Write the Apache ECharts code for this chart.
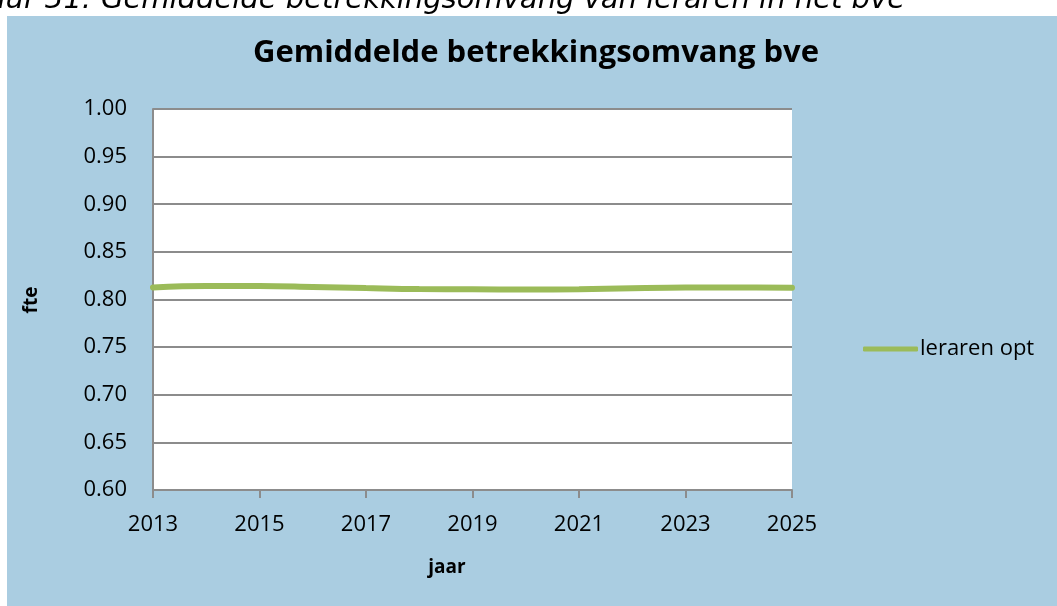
<!DOCTYPE html>
<html>
<head>
<meta charset="utf-8">
<script src="https://cdn.jsdelivr.net/npm/echarts@6/dist/echarts.min.js"></script>
<style>
  html, body { margin: 0; padding: 0; background: #ffffff; }
  #chart { width: 1057px; height: 606px; }
</style>
</head>
<body>
<div id="chart"></div>
<script>
// Average FTE per teacher in the bve sector
const years = [2013, 2014, 2015, 2016, 2017, 2018, 2019, 2020, 2021, 2022, 2023, 2024, 2025];
const lerarenOpt = [0.8127, 0.8142, 0.8142, 0.8132, 0.8120, 0.8110, 0.8108, 0.8105, 0.8108, 0.8118, 0.8125, 0.8126, 0.8123];
const yTicks = { min: 0.60, max: 1.00, step: 0.05 };
const xTicks = { min: 2013, max: 2025, step: 2 };

const FONT = '"Open Sans", "Liberation Sans", sans-serif';
const chart = echarts.init(document.getElementById('chart'), null, { renderer: 'canvas' });

chart.setOption({
  backgroundColor: '#ffffff',
  animation: false,
  graphic: [
    { type: 'rect', left: 7, top: 16, shape: { width: 1050, height: 590 }, style: { fill: '#aacde1' }, z: -10 },
    {
      type: 'text', x: 905, y: 0,
      style: {
        text: 'Figuur 31: Gemiddelde betrekkingsomvang van leraren in het bve',
        font: 'italic 29px "DejaVu Sans", sans-serif', fill: '#000000',
        align: 'right', verticalAlign: 'middle'
      }
    },
    {
      type: 'text', x: 447, y: 568,
      style: {
        text: 'jaar', font: 'bold 19px ' + FONT, fill: '#000000',
        align: 'center', verticalAlign: 'middle'
      }
    },
    {
      type: 'text', x: 32, y: 300, rotation: Math.PI / 2,
      style: {
        text: 'fte', font: 'bold 19px ' + FONT, fill: '#000000',
        align: 'center', verticalAlign: 'middle'
      }
    }
  ],
  title: {
    text: 'Gemiddelde betrekkingsomvang bve',
    left: 531, top: 33, textAlign: 'center',
    textStyle: { fontFamily: FONT, fontWeight: 'bold', fontSize: 31, color: '#000000' }
  },
  legend: {
    data: ['leraren opt'],
    left: 858, top: 333,
    itemWidth: 55, itemHeight: 5, itemGap: 0,
    icon: 'roundRect',
    textStyle: { fontFamily: FONT, fontSize: 22, color: '#000000', padding: [0, 0, 0, -3] }
  },
  grid: { left: 153, top: 109, right: 265, bottom: 116, backgroundColor: '#ffffff', show: true, borderWidth: 0 },
  xAxis: {
    type: 'value',
    min: xTicks.min, max: xTicks.max, interval: xTicks.step,
    axisLine: { show: true, lineStyle: { color: '#8c8c8c', width: 2 } },
    axisTick: { show: true, length: 8, lineStyle: { color: '#8c8c8c', width: 2 } },
    splitLine: { show: false },
    axisLabel: { fontFamily: FONT, fontSize: 22, color: '#000000', margin: 24, formatter: v => String(v) }
  },
  yAxis: {
    type: 'value',
    min: yTicks.min, max: yTicks.max, interval: yTicks.step,
    axisLine: { show: true, lineStyle: { color: '#8c8c8c', width: 2 } },
    axisTick: { show: false },
    splitLine: { show: true, lineStyle: { color: '#8c8c8c', width: 2 } },
    axisLabel: { fontFamily: FONT, fontSize: 22, color: '#000000', margin: 26, formatter: v => v.toFixed(2) }
  },
  series: [{
    name: 'leraren opt',
    type: 'line',
    data: years.map((y, i) => [y, lerarenOpt[i]]),
    smooth: 0.4,
    showSymbol: false,
    symbol: 'none',
    lineStyle: { color: '#9bbb59', width: 6, cap: 'round' },
    itemStyle: { color: '#9bbb59' }
  }]
});
</script>
</body>
</html>
